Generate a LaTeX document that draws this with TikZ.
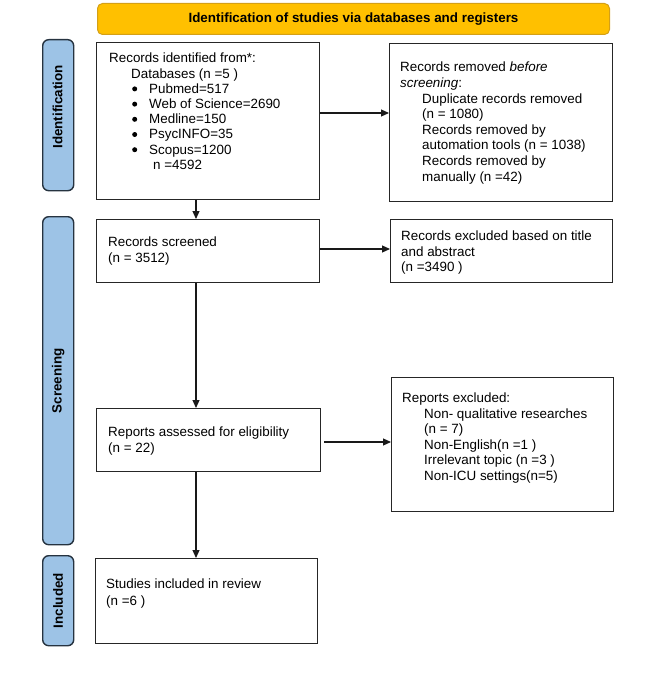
\documentclass[tikz,border=0pt]{standalone}
\usepackage{fontspec}
\setmainfont{Liberation Sans}
\usetikzlibrary{arrows.meta}
\definecolor{barfill}{HTML}{FFC000}
\definecolor{barline}{HTML}{D4A017}
\definecolor{labfill}{HTML}{9DC3E6}
\definecolor{labline}{HTML}{263340}
\newcommand{\bigbul}{\makebox[18pt][l]{\hspace*{1pt}\tikz[baseline=-4.4pt]\fill (0pt,0pt) circle (2.5pt);}}
\begin{document}
\begin{tikzpicture}[x=1pt,y=-1pt,
  box/.style={draw=black!85,line width=1.3pt,inner sep=0pt,anchor=north west},
  lab/.style={draw=labline,fill=labfill,line width=1.4pt,rounded corners=6pt,inner sep=0pt,anchor=north west},
  labtxt/.style={rotate=90,font=\bfseries\fontsize{13.4}{15}\selectfont,inner sep=0pt},
  txt/.style={anchor=north west,inner sep=0pt,align=left,font=\fontsize{13.4}{15.5}\selectfont},
  arr/.style={draw=black!90,line width=1.1pt,-{Triangle[length=8pt,width=7pt]}}]
\useasboundingbox (0,0) rectangle (669,682);
% title bar
\node[draw=barline,fill=barfill,line width=1pt,rounded corners=5pt,inner sep=0pt,anchor=north west,
  minimum width=512pt,minimum height=31pt] (bar) at (97,3) {};
\node[font=\bfseries\fontsize{13.4}{15}\selectfont,inner sep=0pt] (title) at (bar.center) {Identification of studies via databases and registers};
% side labels
\node[lab,minimum width=31pt,minimum height=151pt] (L1) at (42,39) {};
\node[lab,minimum width=31pt,minimum height=328pt] (L2) at (42,216) {};
\node[lab,minimum width=31pt,minimum height=90pt] (L3) at (42,555) {};
\node[labtxt] (L1t) at (57.5,107) {Identification};
\node[labtxt] (L2t) at (L2.center) {Screening};
\node[labtxt] (L3t) at (L3.center) {Included};
% boxes
\node[box,minimum width=223pt,minimum height=157pt] (A) at (96,42) {};
\node[box,minimum width=223pt,minimum height=158pt] (B) at (389,43) {};
\node[box,minimum width=223pt,minimum height=63pt] (C) at (96,219) {};
\node[box,minimum width=222pt,minimum height=63pt] (D) at (390,219) {};
\node[box,minimum width=224pt,minimum height=63pt] (E) at (96,408) {};
\node[box,minimum width=222pt,minimum height=134pt] (F) at (391,377) {};
\node[box,minimum width=222pt,minimum height=85pt] (G) at (95,558) {};
% texts
\node[txt,font=\fontsize{13.4}{15.2}\selectfont] (tA) at (109,53) {Records identified from*:\\
\hspace*{22pt}Databases (n =5 )\\
\hspace*{22pt}\bigbul Pubmed=517\\
\hspace*{22pt}\bigbul Web of Science=2690\\
\hspace*{22pt}\bigbul Medline=150\\
\hspace*{22pt}\bigbul PsycINFO=35\\
\hspace*{22pt}\bigbul Scopus=1200\\
\hspace*{44pt}n =4592};
\node[txt,font=\fontsize{13.4}{15.6}\selectfont] (tB) at (400,62) {Records removed \textit{before}\\
\textit{screening}:\\
\hspace*{22pt}Duplicate records removed\\
\hspace*{22pt}(n = 1080)\\
\hspace*{22pt}Records removed by\\
\hspace*{22pt}automation tools (n = 1038)\\
\hspace*{22pt}Records removed by\\
\hspace*{22pt}manually (n =42)};
\node[txt] (tC) at (108,237) {Records screened\\(n = 3512)};
\node[txt] (tD) at (401,231) {Records excluded based on title\\and abstract\\(n =3490 )};
\node[txt] (tE) at (108,427) {Reports assessed for eligibility\\(n = 22)};
\node[txt] (tF) at (402,393) {Reports excluded:\\
\hspace*{22pt}Non- qualitative researches\\
\hspace*{22pt}(n = 7)\\
\hspace*{22pt}Non-English(n =1 )\\
\hspace*{22pt}Irrelevant topic (n =3 )\\
\hspace*{22pt}Non-ICU settings(n=5)};
\node[txt,font=\fontsize{13.4}{17}\selectfont] (tG) at (106,579) {Studies included in review\\(n =6 )};
% connectors
\coordinate (vx) at (196,0);
\coordinate (h1) at (0,113);
\coordinate (h2) at (0,249);
\coordinate (h3) at (0,442);
\draw[arr] (A.south -| vx) -- (C.north -| vx);
\draw[arr] (C.south -| vx) -- (E.north -| vx);
\draw[arr] (E.south -| vx) -- (G.north -| vx);
\draw[arr] (A.east |- h1) -- (B.west |- h1);
\draw[arr] (C.east |- h2) -- (D.west |- h2);
\draw[arr,shorten <=3pt] (E.east |- h3) -- (F.west |- h3);
\end{tikzpicture}
\end{document}
